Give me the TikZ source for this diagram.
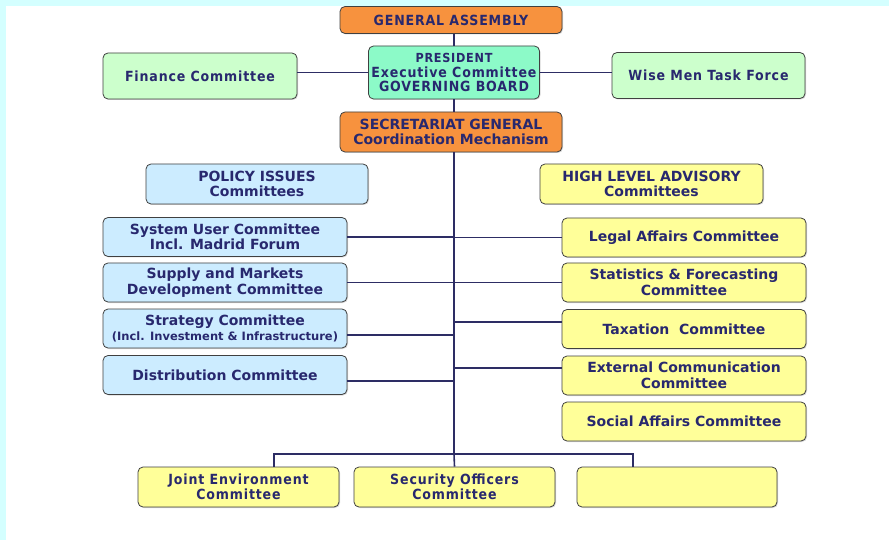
\documentclass[tikz,border=0pt]{standalone}
\usepackage{fontspec}
\setmainfont{DejaVu Sans}
\newfontfamily\narrowfont[LetterSpace=6]{DejaVu Sans Condensed}
\usetikzlibrary{shadows}
\definecolor{orangebox}{RGB}{247,146,62}
\definecolor{mintbox}{RGB}{140,250,200}
\definecolor{greenbox}{RGB}{204,255,204}
\definecolor{bluebox}{RGB}{204,236,255}
\definecolor{yellowbox}{RGB}{255,255,153}
\definecolor{navytext}{RGB}{40,40,110}
\definecolor{linkc}{RGB}{45,45,100}
\definecolor{framec}{RGB}{212,255,255}
\begin{document}
\begin{tikzpicture}[x=1pt,y=-1pt,
  box/.style={draw=black!75,rounded corners=5pt,line width=0.8pt,align=center,text=navytext,inner sep=1pt,
    drop shadow={shadow xshift=1pt,shadow yshift=-1pt,opacity=0.3}},
  wide/.style={font=\bfseries\fontsize{14}{15.5}\selectfont},
  narrow/.style={font=\narrowfont\bfseries\fontsize{14}{15.5}\selectfont},
  colbox/.style={box,wide,minimum width=244,minimum height=39},
  botbox/.style={box,narrow,fill=yellowbox,minimum width=201,minimum height=40},
  link/.style={draw=linkc,line width=1.6pt}]
\useasboundingbox (0,0) rectangle (889,540);
\fill[framec] (0,0) rectangle (889,540);
\fill[white] (6,6) rectangle (889,540);
\coordinate (hub) at (454,454);
% top of the chart
\node[box,narrow,fill=orangebox,minimum width=222,minimum height=27] (ga) at (451,20) {GENERAL ASSEMBLY};
\node[box,narrow,fill=mintbox,minimum width=171,minimum height=53,font=\narrowfont\bfseries\fontsize{14}{14.5}\selectfont] (pres) at (454,72.5)
  {{\fontsize{12.5}{14.5}\selectfont PRESIDENT}\\Executive Committee\\GOVERNING BOARD};
\node[box,narrow,fill=greenbox,minimum width=194,minimum height=46] (fin) at (200,76) {Finance Committee};
\node[box,narrow,fill=greenbox,minimum width=193,minimum height=46] (wise) at (708.5,75.5) {Wise Men Task Force};
\node[box,wide,fill=orangebox,minimum width=222,minimum height=40] (sec) at (451,132) {SECRETARIAT GENERAL\\Coordination Mechanism};
\node[box,wide,fill=bluebox,minimum width=222,minimum height=40] (policy) at (257,184) {POLICY ISSUES\\Committees};
\node[box,wide,fill=yellowbox,minimum width=223,minimum height=40] (hla) at (651.5,184) {HIGH LEVEL ADVISORY\\Committees};
% policy issues
\node[colbox,fill=bluebox] (sys) at (225,237) {System User Committee\\Incl. Madrid Forum};
\node[colbox,fill=bluebox] (supply) at (225,282.5) {Supply and Markets\\Development Committee};
\node[colbox,fill=bluebox] (strat) at (225,328.5) {Strategy Committee\\{\fontsize{11.5}{13}\selectfont(Incl. Investment \& Infrastructure)}};
\node[colbox,fill=bluebox] (dist) at (225,375) {Distribution Committee};
% advisory
\node[colbox,fill=yellowbox] (legal) at (684,237.5) {Legal Affairs Committee};
\node[colbox,fill=yellowbox] (stats) at (684,282.5) {Statistics \& Forecasting\\Committee};
\node[colbox,fill=yellowbox] (tax) at (684,329) {Taxation\ \ Committee};
\node[colbox,fill=yellowbox] (ext) at (684,375.5) {External Communication\\Committee};
\node[colbox,fill=yellowbox] (social) at (684,421.5) {Social Affairs Committee};
% bottom row
\node[botbox] (joint) at (238.5,487) {Joint Environment\\Committee};
\node[botbox] (secu) at (454.5,487) {Security Officers\\Committee};
\node[botbox,minimum width=200] (blank) at (677,487) {};
% connectors
\draw[link] (hub |- ga.south) -- (hub |- pres.north);
\draw[link] (hub |- pres.south) -- (hub |- sec.north);
\draw[link] (hub |- sec.south) -- (hub);
\draw[link] (fin.east |- pres.west) -- (pres.west);
\draw[link] (pres.east) -- (pres.east -| wise.west);
\draw[link] (sys.east) -- (sys.east -| hub);
\draw[link] (supply.east) -- (supply.east -| hub);
\draw[link] ([yshift=-6.5pt]strat.east) -- ([yshift=-6.5pt]strat.east -| hub);
\draw[link] ([yshift=-6pt]dist.east) -- ([yshift=-6pt]dist.east -| hub);
\draw[link] (legal.west) -- (legal.west -| hub);
\draw[link] (stats.west) -- (stats.west -| hub);
\draw[link] ([yshift=7pt]tax.west) -- ([yshift=7pt]tax.west -| hub);
\draw[link] ([yshift=7.5pt]ext.west) -- ([yshift=7.5pt]ext.west -| hub);
\draw[link] ([xshift=35.5pt]joint.north) |- (hub) -| ([xshift=-44pt]blank.north);
\draw[link] (hub) -- (secu.north);
\end{tikzpicture}
\end{document}
